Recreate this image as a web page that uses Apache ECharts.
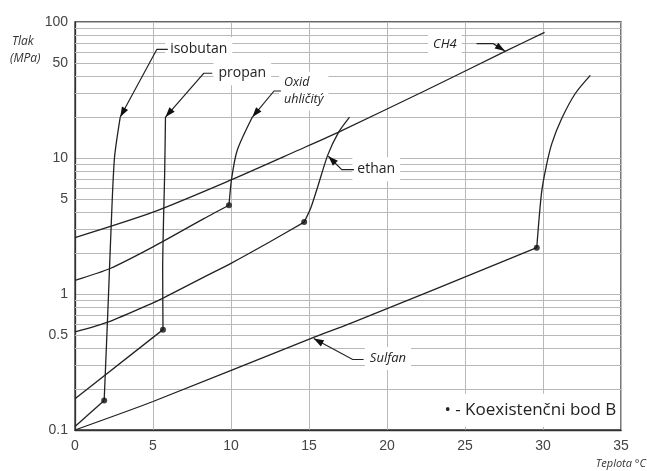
<!DOCTYPE html>
<html><head><meta charset="utf-8">
<script src="https://cdn.jsdelivr.net/npm/echarts@6.0.0/dist/echarts.min.js"></script>
<style>html,body{margin:0;padding:0;background:#fff}#c{width:647px;height:471px}</style>
</head><body><div id="c"></div>
<script>
// ---- data ----
const xTicks = [0, 5, 10, 15, 20, 25, 30, 35];
const yExtraLabels = [0.5, 5, 50];
const yMinorGrid = [0.2,0.3,0.4,0.5,0.6,0.7,0.8,0.9,2,3,4,5,6,7,8,9,20,30,40,50,60,70,80,90];

const ch4 = [[0,2.6],[5,4.0],[10,6.9],[14.3,11.4],[16.9,15.5],[22.5,31.5],[27.6,61],[30.1,84]];
const co2Low = [[0,1.26],[2.25,1.54],[5,2.22],[8.26,3.58],[9.87,4.49]];
const co2High = [[9.87,4.49],[10.04,7.06],[10.4,11.4],[11.37,20]];
const ethanLow = [[0,0.526],[2.25,0.63],[5,0.86],[5.58,0.925],[8.26,1.33],[10,1.68],[12.5,2.42],[14.69,3.38]];
const ethanHigh = [[14.69,3.38],[15.1,4.25],[15.55,6.1],[16.2,10.5],[16.9,15.5],[17.6,20]];
const propanLow = [[0,0.17],[5.64,0.547]];
const propanHigh = [[5.64,0.547],[5.62,1.5],[5.75,8],[5.8,20]];
const isobutanLow = [[0,0.106],[1.87,0.165]];
const isobutanHigh = [[1.87,0.165],[2.03,0.457],[2.15,1],[2.32,3.2],[2.53,10],[2.9,20]];
const sulfanLow = [[0,0.1],[5,0.162],[15.1,0.47],[17.7,0.61],[29.6,2.19]];
const sulfanHigh = [[29.6,2.19],[29.9,5.47],[30.2,8.6],[30.57,12.8],[31.2,19.5],[32.07,29.8],[33.03,40.5]];
const coexPoints = [[1.87,0.165],[5.64,0.547],[9.87,4.49],[14.69,3.38],[29.6,2.19]];

// annotation labels: text, anchor (data coords), leader polyline ending at arrow tip (data coords)
const annotations = [
  {text:'isobutan', at:[6.1,63], leader:[[5.95,63],[5.25,63],[2.9,20]], italic:false, size:14},
  {text:'propan', at:[9.2,42], leader:[[8.8,42],[8.25,42],[5.8,20]], italic:false, size:14},
  {text:'Oxid\nuhličitý', at:[13.4,31], leader:[[13.2,31.1],[12.76,31.1],[11.37,20]], italic:true, size:12.5},
  {text:'CH4', at:[22.95,68.5], leader:[[25.74,69.3],[26.81,69.3],[27.56,61.3]], italic:true, size:13},
  {text:'ethan', at:[18.1,8.27], leader:[[17.88,8.2],[17.1,8.2],[16.24,10.3]], italic:false, size:14},
  {text:'Sulfan', at:[18.9,0.336], leader:[[18.5,0.33],[17.8,0.33],[15.3,0.47]], italic:true, size:13}
];
const legendText = '• - Koexistenčni bod B';
const legendAt = [23.68, 0.1396];

// ---- chart ----
const chart = echarts.init(document.getElementById('c'), null, {renderer:'canvas'});
const curveStyle = {color:'#222', width:1.3};
function curve(name, data){
  return {name, type:'line', data, symbol:'none', smooth:0.25, lineStyle:curveStyle, z:3, silent:true};
}
const gridColor = '#b8b8b8';
const lblFont = 'Liberation Sans';

const markData = yMinorGrid.map(v => {
  const item = {yAxis: v};
  if (yExtraLabels.indexOf(v) >= 0) {
    item.label = {show:true, position:'start', formatter: String(v), color:'#444', fontSize:14, fontFamily:lblFont, distance:7};
  }
  return item;
});

chart.setOption({
  animation:false,
  backgroundColor:'#fff',
  grid:{left:75, right:26, top:22, bottom:41, show:true, borderColor:'#333', borderWidth:1.3, containLabel:false, outerBoundsMode:'none'},
  xAxis:{type:'value', min:0, max:35, interval:5,
    axisLine:{lineStyle:{color:'#333', width:1.3}}, axisTick:{show:false},
    axisLabel:{color:'#444', fontSize:14, fontFamily:lblFont, margin:9},
    splitLine:{show:true, lineStyle:{color:gridColor, width:1}}},
  yAxis:{type:'log', logBase:10, min:0.1, max:100,
    axisLine:{show:true, lineStyle:{color:'#333', width:1.3}}, axisTick:{show:false},
    axisLabel:{color:'#444', fontSize:14, fontFamily:lblFont, margin:7,
      formatter: v => String(+(+v).toPrecision(3))},
    splitLine:{show:true, lineStyle:{color:gridColor, width:1}},
    minorSplitLine:{show:false}},
  series:[
    {name:'grid', type:'line', data:[], z:1, silent:true,
      markLine:{silent:true, z:1, symbol:['none','none'], animation:false,
        lineStyle:{color:gridColor, type:'solid', width:1},
        label:{show:false}, emphasis:{disabled:true},
        data: markData}},
    curve('CH4', ch4),
    curve('CO2 low', co2Low), curve('CO2 high', co2High),
    curve('ethan low', ethanLow), curve('ethan high', ethanHigh),
    curve('propan low', propanLow), curve('propan high', propanHigh),
    curve('isobutan low', isobutanLow), curve('isobutan high', isobutanHigh),
    curve('sulfan low', sulfanLow), curve('sulfan high', sulfanHigh),
    {name:'B', type:'scatter', data:coexPoints, symbol:'circle', symbolSize:6, itemStyle:{color:'#111'}, z:4, silent:true}
  ]
});

// ---- annotations (positioned from data coordinates) ----
const toPx = p => chart.convertToPixel({gridIndex:0}, p);
const elements = [];
const PADX = 5;
annotations.forEach(a => {
  const p = toPx(a.at);
  elements.push({type:'text', z:2, silent:true, style:{
    text:a.text, x:p[0]-PADX, y:p[1], align:'left', verticalAlign:'middle',
    font:(a.italic?'italic ':'') + a.size + 'px "Open Sans"', fill:'#222',
    backgroundColor:'#fff', padding:[3,PADX], lineHeight: a.size + 4}});
  const pts = a.leader.map(toPx);
  elements.push({type:'polyline', z:5, silent:true, shape:{points:pts}, style:{stroke:'#222', lineWidth:1.2, fill:null}});
  const tip = pts[pts.length-1], prev = pts[pts.length-2];
  const dx = tip[0]-prev[0], dy = tip[1]-prev[1], L = Math.hypot(dx,dy);
  const ux = dx/L, uy = dy/L, len = 10, hw = 3.5;
  const bx = tip[0]-ux*len, by = tip[1]-uy*len;
  elements.push({type:'polygon', z:5, silent:true, shape:{points:[tip,[bx-uy*hw, by+ux*hw],[bx+uy*hw, by-ux*hw]]}, style:{fill:'#111'}});
});
const lp = toPx(legendAt);
elements.push({type:'text', z:2, silent:true, style:{
  text:legendText, x:lp[0]-11, y:lp[1], align:'left', verticalAlign:'middle',
  font:'17px "Open Sans"', fill:'#222', backgroundColor:'#fff', padding:[7,2,9,11]}});
// axis titles
elements.push({type:'text', z:2, silent:true, style:{text:'Tlak', x:12, y:42, align:'left', verticalAlign:'middle', font:'italic 12px "Open Sans"', fill:'#333'}});
elements.push({type:'text', z:2, silent:true, style:{text:'(MPa)', x:10, y:59, align:'left', verticalAlign:'middle', font:'italic 12px "Open Sans"', fill:'#333'}});
elements.push({type:'text', z:2, silent:true, style:{text:'Teplota °C', x:646, y:464, align:'right', verticalAlign:'middle', font:'italic 11px "Open Sans"', fill:'#333'}});
chart.setOption({graphic:{elements}});
</script>
</body></html>
